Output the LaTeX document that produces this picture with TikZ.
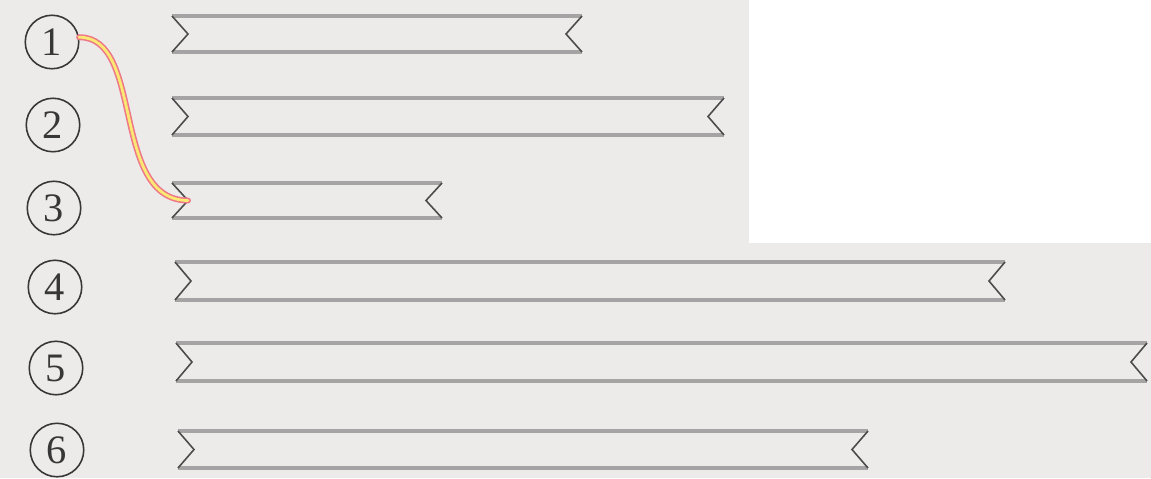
\documentclass[tikz,border=0pt]{standalone}
\usepackage{fontspec}
\newfontfamily\numfont{Liberation Serif}
\definecolor{paper}{RGB}{236,235,234}
\definecolor{edgegray}{RGB}{165,163,163}
\definecolor{notchgray}{RGB}{75,75,75}
\definecolor{inkgray}{RGB}{55,55,55}
\definecolor{wirered}{RGB}{238,120,135}
\definecolor{wireyellow}{RGB}{250,232,115}
\tikzset{
  numcirc/.style={draw=inkgray, line width=0.9pt, circle, minimum size=1.07cm,
    inner sep=0pt, text=inkgray, font=\numfont\fontsize{23}{26}\selectfont},
  ribedge/.style={edgegray, line width=2pt},
  ribnotch/.style={notchgray, line width=0.9pt, line join=miter}
}
\begin{document}
\begin{tikzpicture}[x=0.02cm,y=-0.02cm]
  \useasboundingbox (0,0) rectangle (1151,478);
  \fill[paper] (0,0) rectangle (1151,478);
  \fill[white] (749,0) rectangle (1151,243);
  % numbers
  \foreach \n/\cx/\cy in {1/52/42,2/53/125,3/54/208,4/55/287,5/56/368,6/57/450}
    \node[numcirc] (c\n) at (\cx,\cy) {\n};
  % ribbons: number / top / bottom / left / right
  \foreach \n/\t/\b/\l/\r in {1/16/52/172/582,2/98/135/172/724,3/183/218/172/442,
      4/262/300/175/1005,5/343/381/176/1147,6/431/468/178/868} {
    \draw[ribedge] (\l,\t) -- (\r,\t);
    \draw[ribedge] (\l,\b) -- (\r,\b);
    \draw[ribnotch] (\l,\t) -- (\l+16,{(\t+\b)/2}) coordinate (r\n l) -- (\l,\b);
    \draw[ribnotch] (\r,\t) -- (\r-16,{(\t+\b)/2}) coordinate (r\n r) -- (\r,\b);
  }
  % wire from 1 to 3
  \draw[wirered, line width=3.4pt, line cap=round]
    (c1.10) .. controls (145,37) and (110,200) .. (r3l);
  \draw[wireyellow, line width=1.6pt, line cap=round]
    (c1.10) .. controls (145,37) and (110,200) .. (r3l);
\end{tikzpicture}
\end{document}
